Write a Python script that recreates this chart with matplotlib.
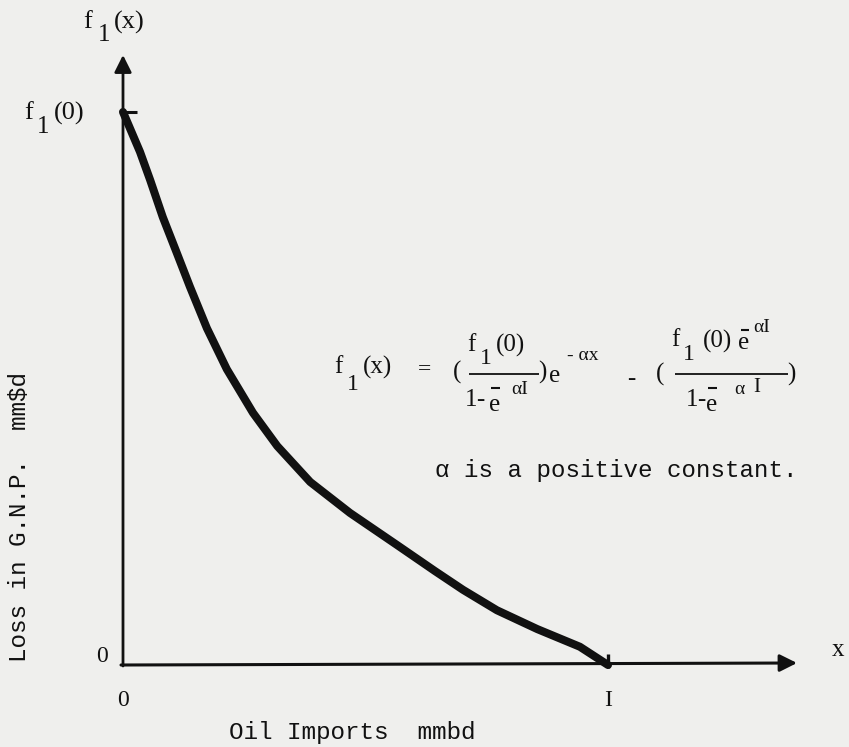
import matplotlib
matplotlib.use("Agg")
import matplotlib.pyplot as plt

# ---- data (normalised: x in units of I, y in units of f1(0)) ----
x_vals = [0.000, 0.035, 0.056, 0.082, 0.111, 0.138, 0.173, 0.214, 0.268, 0.318,
          0.386, 0.468, 0.565, 0.643, 0.701, 0.771, 0.854, 0.942, 1.000]
y_vals = [1.000, 0.928, 0.877, 0.810, 0.745, 0.684, 0.609, 0.535, 0.456, 0.396,
          0.331, 0.275, 0.217, 0.170, 0.136, 0.099, 0.065, 0.033, 0.000]
x_tick_labels = ["0", "I"]
y_tick_labels = ["0", "(0)"]

W, H = 849, 747
BG = "#efefed"
INK = "#111111"
fig = plt.figure(figsize=(W / 100, H / 100), dpi=100, facecolor=BG)
ax = fig.add_axes([0, 0, 1, 1])
ax.set_facecolor(BG)

# pixel layout of the drawing
OX, OY = 123, 665      # origin pixel
IX, FY = 608, 112      # pixel of x=I and y=f1(0)
sx = IX - OX
sy = OY - FY
ax.set_xlim(-OX / sx, (W - OX) / sx)
ax.set_ylim((OY - H) / sy, OY / sy)
ax.axis("off")


def P(px, py):
    return ((px - OX) / sx, (OY - py) / sy)


serif = ["Liberation Serif", "DejaVu Serif"]
mono = ["Liberation Mono", "DejaVu Sans Mono"]


def T(px, py, s, size=18, ha="left", fam=None, **kw):
    ax.text(*P(px, py), s, family=fam or serif, fontsize=size, color=INK,
            ha=ha, va="center", **kw)


def L(x0, x1, py, lw=1.3):
    a = P(x0, py)
    b = P(x1, py)
    ax.plot([a[0], b[0]], [a[1], b[1]], color=INK, lw=lw,
            solid_capstyle="butt")


# axes with arrows
ax.annotate("", xy=P(OX, 55), xytext=P(OX, OY + 1),
            arrowprops=dict(arrowstyle="-|>", lw=2.0, color=INK,
                            mutation_scale=26, shrinkA=0, shrinkB=0))
ax.annotate("", xy=P(797, OY - 2), xytext=P(OX - 2, OY),
            arrowprops=dict(arrowstyle="-|>", lw=2.2, color=INK,
                            mutation_scale=26, shrinkA=0, shrinkB=0))

# tick marks
ax.plot([0, P(137, 0)[0]], [1, 1], color=INK, lw=2.2, solid_capstyle="butt")
ax.plot([1, 1], [P(0, 654)[1], P(0, 668)[1]], color=INK, lw=2.4,
        solid_capstyle="butt")

# curve
ax.plot(x_vals, y_vals, color=INK, lw=5.8, solid_capstyle="round",
        solid_joinstyle="round")

# axis end labels  f1(x), f1(0)
T(83, 22, "f", 19)
T(98, 35, "1", 18)
T(114, 22, "(x)", 19)
T(24, 113, "f", 19)
T(37, 127, "1", 18)
T(54, 113, y_tick_labels[1], 19)

# tick labels
T(102, 657, y_tick_labels[0], 17, ha="center")
ax.text(0, P(0, 700)[1], x_tick_labels[0], family=serif, fontsize=17,
        color=INK, ha="center", va="center")
ax.text(1, P(0, 700)[1], x_tick_labels[1], family=serif, fontsize=17,
        color=INK, ha="center", va="center")
T(838, 650, "x", 18, ha="center")

# axis titles
T(352, 733, "Oil Imports  mmbd", 17.5, ha="center", fam=mono)
T(20, 517, "Loss in G.N.P.  mm$d", 17.5, ha="center", fam=mono, rotation=90)

# ---- formula, typed piece by piece as in the original ----
T(334, 367, "f", 18)
T(347, 384, "1", 17)
T(363, 367, "(x)", 18)
T(425, 370, "=", 17, ha="center")
T(453, 372, "(", 18)
# first fraction
T(467, 345, "f", 18)
T(480, 358, "1", 17)
T(496, 345, "(0)", 18)
L(469, 539, 374)
T(465, 400, "1", 18)
T(476, 400, "-", 18)
T(489, 405, "e", 18)
L(491, 500, 388, 1.5)
T(511, 389, "\u03b1I", 14)
T(538, 372, ")", 18)
T(549, 376, "e", 18)
T(567, 356, "- \u03b1x", 14)
# minus
T(627, 379, "-", 18)
# second fraction
T(656, 374, "(", 18)
T(671, 340, "f", 18)
T(683, 355, "1", 17)
T(703, 341, "(0)", 18)
T(738, 343, "e", 18)
L(741, 749, 330, 1.5)
T(753, 327, "\u03b1I", 14)
L(675, 788, 374)
T(686, 400, "1", 18)
T(697, 400, "-", 18)
T(706, 405, "e", 18)
L(708, 717, 388, 1.5)
T(734, 389, "\u03b1", 14)
T(753, 387, "I", 15)
T(787, 374, ")", 18)

T(616, 470, "\u03b1 is a positive constant.", 17.4, ha="center", fam=mono)

fig.savefig("out.png", dpi=100, facecolor=BG)
